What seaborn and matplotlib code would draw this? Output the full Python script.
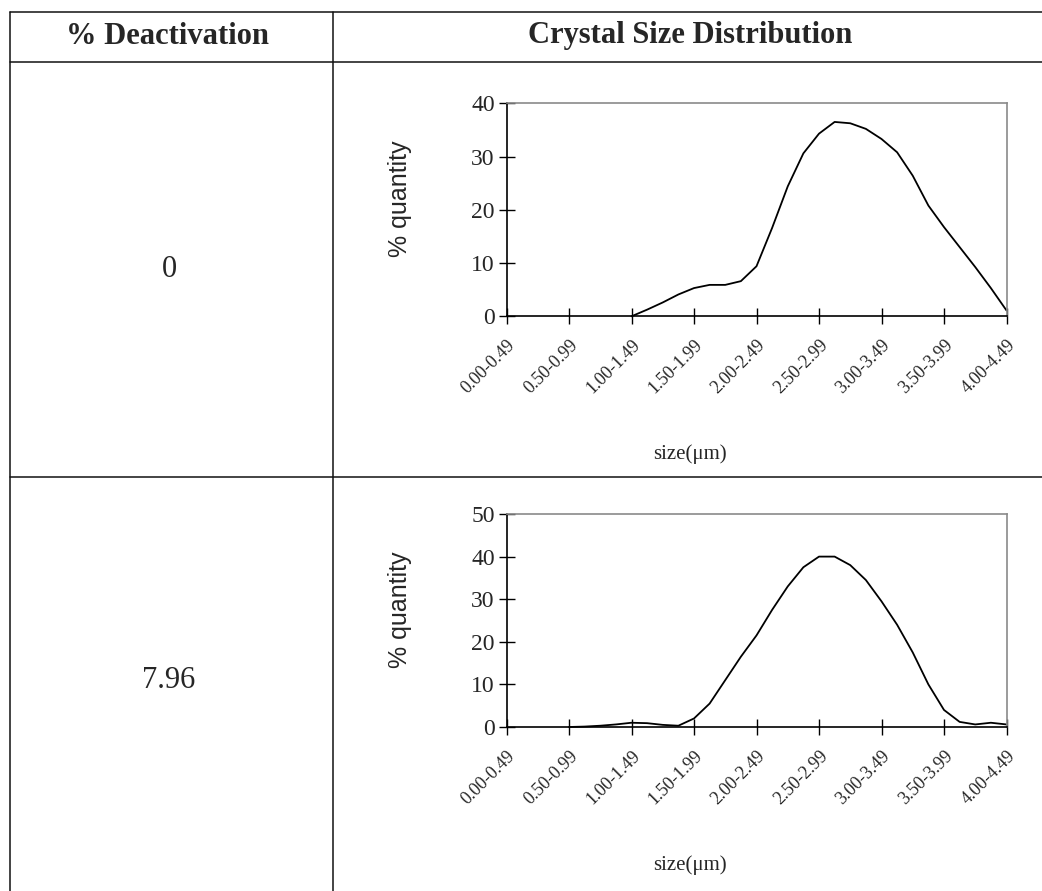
import numpy as np
import matplotlib.pyplot as plt
import seaborn as sns
from matplotlib.lines import Line2D

# size classes on the x axis (one tick per class)
size_bins = ['0.00-0.49', '0.50-0.99', '1.00-1.49', '1.50-1.99', '2.00-2.49',
             '2.50-2.99', '3.00-3.49', '3.50-3.99', '4.00-4.49']

# curves every quarter of a class
curve_pos = np.arange(0, 8.01, 0.25)
nan = np.nan
quantity_0 = [nan, nan, nan, nan, nan, nan, nan, nan,
              0.0, 1.25, 2.6, 4.1, 5.3, 5.9, 5.9, 6.6,
              9.4, 16.6, 24.4, 30.6, 34.3, 36.5, 36.25, 35.2,
              33.3, 30.8, 26.4, 20.8, 16.75, 13.0, 9.25, 5.3, 1.1]
quantity_796 = [nan, nan, nan, nan,
                0.0, 0.1, 0.3, 0.6, 1.0, 0.9, 0.5, 0.3,
                2.0, 5.5, 11.0, 16.5, 21.5, 27.5, 33.0, 37.5,
                40.0, 40.0, 38.0, 34.5, 29.5, 24.0, 17.5, 10.0,
                4.0, 1.2, 0.6, 1.0, 0.6]

deactivation = ['0', '7.96']
row_curves = [quantity_0, quantity_796]
row_ymax = [40, 50]

W, H = 1042, 891
sns.set_style('ticks')
plt.rcParams['font.family'] = ['Liberation Serif', 'DejaVu Serif']

fig = plt.figure(figsize=(W / 100, H / 100), dpi=100)
fig.patch.set_facecolor('white')


def fx(x):
    return x / W


def fy(y):
    return 1 - y / H


# table grid
lc = '#111111'
for x0, y0, x1, y1 in [(10, 12, W, 12), (10, 62, W, 62), (10, 477, W, 477),
                       (10, 12, 10, H), (333, 12, 333, H)]:
    fig.add_artist(Line2D([fx(x0), fx(x1)], [fy(y0), fy(y1)], color=lc, lw=1.1))

fig.text(fx(168), fy(36), '% Deactivation', ha='center', va='center',
         fontsize=22, fontweight='bold')
fig.text(fx(690), fy(36), 'Crystal Size Distribution', ha='center', va='center',
         fontsize=22, fontweight='bold')

row_centers = [269, 681]
axes_tops = [103.3, 514]
for i in range(2):
    fig.text(fx(169), fy(row_centers[i]), deactivation[i], ha='center', va='center',
             fontsize=22)

    top = axes_tops[i]
    ax = fig.add_axes([fx(506.5), fy(top + 213), 500 / W, 213 / H])
    sns.lineplot(x=curve_pos, y=row_curves[i], ax=ax, color='black', lw=1.3,
                 estimator=None, clip_on=False)
    ax.set_xlim(0, 8)
    ax.set_ylim(0, row_ymax[i])
    ax.set_yticks(range(0, row_ymax[i] + 1, 10))
    ax.set_xticks(range(len(size_bins)))
    ax.set_xticklabels(size_bins, rotation=45, ha='right', rotation_mode='anchor',
                       fontsize=13)
    ax.tick_params(axis='both', direction='inout', length=11, width=1, color='black')
    ax.tick_params(axis='y', labelsize=17, pad=3)
    ax.tick_params(axis='x', pad=9)
    for s in ['left', 'bottom']:
        ax.spines[s].set_color('black')
        ax.spines[s].set_linewidth(1.2)
    for s in ['top', 'right']:
        ax.spines[s].set_visible(True)
        ax.spines[s].set_color('#8a8a8a')
        ax.spines[s].set_linewidth(1.2)

    ax.set_ylabel('% quantity', fontsize=18, family=['Liberation Sans', 'DejaVu Sans'])
    ax.yaxis.set_label_coords(-0.19, 0.55)
    ax.set_xlabel('size(\u03bcm)', fontsize=15)
    ax.xaxis.set_label_coords(0.367, -0.60)

fig.savefig('out.png', dpi=100, facecolor='white')
